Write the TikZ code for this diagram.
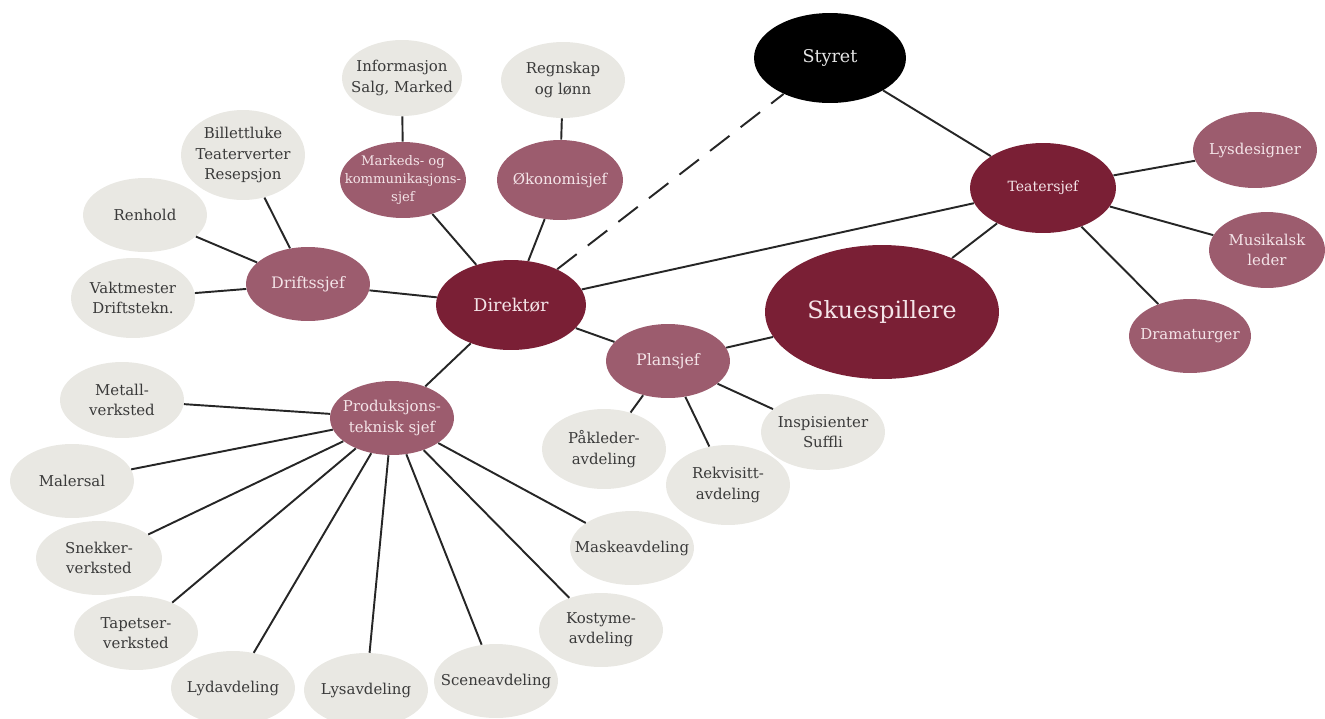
\documentclass[tikz,border=0pt]{standalone}
\usepackage{fontspec}
\setmainfont{DejaVu Serif}
\usetikzlibrary{shapes.geometric}
\definecolor{lightfill}{HTML}{E9E8E3}
\definecolor{mauve}{HTML}{9C5C6E}
\definecolor{wine}{HTML}{7A1F35}
\definecolor{txtdark}{HTML}{3A3A3A}
\definecolor{txtlight}{HTML}{F4E4E8}
\definecolor{edgecol}{HTML}{262626}
\tikzset{
  sz/.style n args={2}{minimum width=#1*0.04cm, minimum height=#2*0.04cm},
  lt/.style={ellipse, fill=lightfill, inner sep=0pt},
  md/.style={ellipse, fill=mauve, inner sep=0pt},
  dk/.style={ellipse, fill=wine, inner sep=0pt},
  bk/.style={ellipse, fill=black, inner sep=0pt},
  ltx/.style={align=center, text=txtdark, font=\fontsize{8.5}{11.5}\selectfont},
  lgx/.style={align=center, text=txtlight, font=\fontsize{8.5}{11.5}\selectfont},
  conn/.style={draw=edgecol, line width=1.1pt},
  dashconn/.style={draw=edgecol, line width=1.1pt, dash pattern=on 14pt off 8pt},
}
\begin{document}
\begin{tikzpicture}[x=0.02cm, y=-0.02cm]
\useasboundingbox (0,0) rectangle (1325,718);

% top right
\node[bk, sz={76}{45}, label={[lgx, text=white!90!black, font=\fontsize{10}{12}\selectfont]center:Styret}] (styret) at (830,58) {};
\node[dk, sz={73}{45}, label={[lgx, font=\fontsize{8}{11}\selectfont]center:Teatersjef}] (teater) at (1043,188) {};
\node[md, sz={62}{38}, label={[lgx]center:Lysdesigner}] (lysd) at (1255,150) {};
\node[md, sz={58}{38}, label={[lgx]center:{Musikalsk\\leder}}] (musik) at (1267,250) {};
\node[md, sz={61}{37}, label={[lgx]center:Dramaturger}] (drama) at (1190,336) {};
\node[dk, sz={117}{67}, label={[lgx, font=\fontsize{13.5}{15}\selectfont]center:Skuespillere}] (skue) at (882,312) {};

% centre
\node[dk, sz={75}{45}, label={[lgx, font=\fontsize{10}{12}\selectfont]center:Direktør}] (dir) at (511,305) {};
\node[md, sz={62}{37}, label={[lgx, font=\fontsize{9}{12}\selectfont]center:Plansjef}] (plan) at (668,361) {};
\node[lt, sz={62}{38}, label={[ltx]center:{Inspisienter\\Suffli}}] (insp) at (823,432) {};
\node[lt, sz={62}{40}, label={[ltx]center:{Påkleder-\\avdeling}}] (pak) at (604,449) {};
\node[lt, sz={62}{40}, label={[ltx]center:{Rekvisitt-\\avdeling}}] (rekv) at (728,485) {};

% top
\node[md, sz={63}{38}, label={[lgx, font=\fontsize{7.5}{10}\selectfont]center:{Markeds- og\\kommunikasjons-\\sjef}}] (mark) at (403,180) {};
\node[md, sz={63}{40}, label={[lgx]center:Økonomisjef}] (okon) at (560,180) {};
\node[lt, sz={60}{38}, label={[ltx]center:{Informasjon\\Salg, Marked}}] (info) at (402,78) {};
\node[lt, sz={62}{38}, label={[ltx]center:{Regnskap\\og lønn}}] (regn) at (563,80) {};

% left
\node[lt, sz={62}{45}, label={[ltx]center:{Billettluke\\Teaterverter\\Resepsjon}}] (bill) at (243,155) {};
\node[lt, sz={62}{37}, label={[ltx]center:Renhold}] (renh) at (145,215) {};
\node[lt, sz={62}{40}, label={[ltx]center:{Vaktmester\\Driftstekn.}}] (vakt) at (133,298) {};
\node[md, sz={62}{37}, label={[lgx, font=\fontsize{9}{12}\selectfont]center:Driftssjef}] (drift) at (308,284) {};

% bottom
\node[md, sz={62}{37}, label={[lgx]center:{Produksjons-\\teknisk sjef}}] (prod) at (392,418) {};
\node[lt, sz={62}{38}, label={[ltx]center:{Metall-\\verksted}}] (metall) at (122,400) {};
\node[lt, sz={62}{37}, label={[ltx]center:Malersal}] (maler) at (72,481) {};
\node[lt, sz={63}{37}, label={[ltx]center:{Snekker-\\verksted}}] (snek) at (99,558) {};
\node[lt, sz={62}{37}, label={[ltx]center:{Tapetser-\\verksted}}] (tapet) at (136,633) {};
\node[lt, sz={62}{37}, label={[ltx]center:Lydavdeling}] (lyd) at (233,688) {};
\node[lt, sz={62}{37}, label={[ltx]center:Lysavdeling}] (lys) at (366,690) {};
\node[lt, sz={62}{37}, label={[ltx]center:Sceneavdeling}] (scene) at (496,681) {};
\node[lt, sz={62}{37}, label={[ltx]center:{Kostyme-\\avdeling}}] (kost) at (601,630) {};
\node[lt, sz={62}{37}, label={[ltx]center:Maskeavdeling}] (maske) at (632,548) {};

% connectors
\draw[dashconn] (dir) -- (styret);
\draw[conn] (styret) -- (teater);
\draw[conn] (dir) -- (teater);
\draw[conn] (teater) -- (skue);
\draw[conn] (teater) -- (lysd);
\draw[conn] (teater) -- (musik);
\draw[conn] (teater) -- (drama);
\draw[conn] (dir) -- (mark);
\draw[conn] (dir) -- (okon);
\draw[conn] (mark) -- (info);
\draw[conn] (okon) -- (regn);
\draw[conn] (dir) -- (drift);
\draw[conn] (drift) -- (bill);
\draw[conn] (drift) -- (renh);
\draw[conn] (drift) -- (vakt);
\draw[conn] (dir) -- (plan);
\draw[conn] (plan) -- (skue);
\draw[conn] (plan) -- (pak);
\draw[conn] (plan) -- (rekv);
\draw[conn] (plan) -- (insp);
\draw[conn] (dir) -- (prod);
\foreach \t in {metall,maler,snek,tapet,lyd,lys,scene,kost,maske}
  \draw[conn] (prod) -- (\t);
\end{tikzpicture}
\end{document}
